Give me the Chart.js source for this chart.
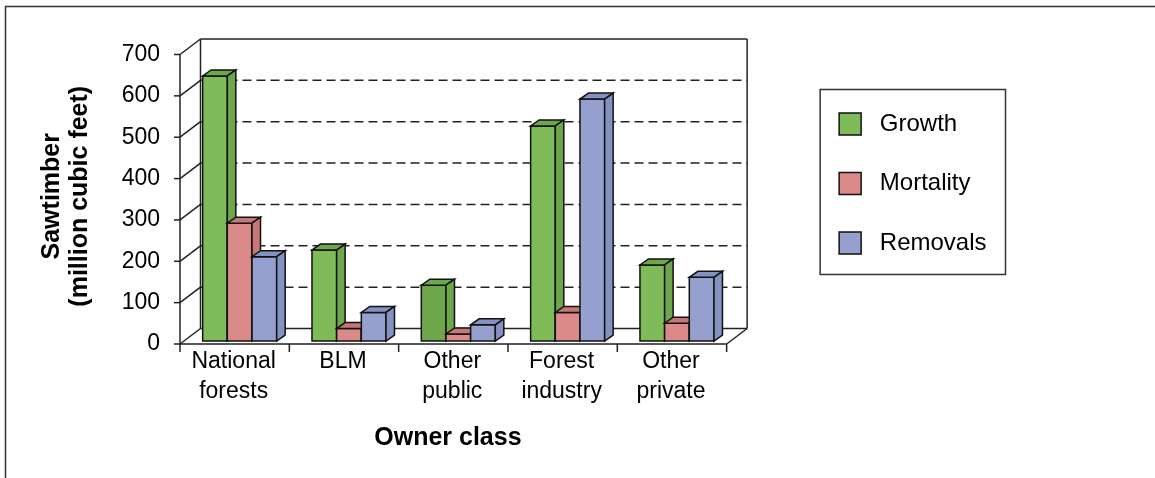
<!DOCTYPE html>
<html>
<head>
<meta charset="utf-8">
<script src="https://cdn.jsdelivr.net/npm/chart.js@4"></script>
<style>
  body { margin: 0; background: #fff; }
  #wrap { width: 1155px; height: 478px; }
</style>
</head>
<body>
<div id="wrap"><canvas id="myChart1" width="1155" height="478"></canvas></div>
<script>
// owner classes and the three series (million cubic feet)
var categories = [['National', 'forests'], 'BLM', ['Other', 'public'], ['Forest', 'industry'], ['Other', 'private']];
var growth = [641, 220, 135, 520, 184];
var mortality = [285, 30, 17, 69, 43];
var removals = [204, 69, 39, 585, 154];
var yTicks = [0, 100, 200, 300, 400, 500, 600, 700];

Chart.defaults.font.family = "'Liberation Sans', Arial, sans-serif";
Chart.defaults.color = '#000';

// 3d look: front plane / back wall offsets from the bar plane, and bar depth
var FRONT = { dx: -5, dy: 3 };
var BACK = { dx: 15.5, dy: -12.5 };
var DEPTH = { dx: 8.5, dy: -6 };

var fakeDepth = {
    id: 'fakeDepth',
    beforeDatasetsDraw: function (chart) {
        var c = chart.ctx, ca = chart.chartArea, y = chart.scales.y, x = chart.scales.x;
        var l = ca.left, r = ca.right;
        var y0 = y.getPixelForValue(yTicks[0]);
        var yTop = y.getPixelForValue(yTicks[yTicks.length - 1]);
        c.save();
        c.strokeStyle = '#222';
        c.lineWidth = 1.5;
        function line(x1, y1, x2, y2) {
            c.beginPath(); c.moveTo(x1, y1); c.lineTo(x2, y2); c.stroke();
        }
        yTicks.forEach(function (v, i) {
            var py = y.getPixelForValue(v);
            // side wall diagonals + front tick marks
            line(l + FRONT.dx, py + FRONT.dy, l + BACK.dx, py + BACK.dy);
            line(l + FRONT.dx - 6, py + FRONT.dy, l + FRONT.dx, py + FRONT.dy);
            if (i > 0 && i < yTicks.length - 1) {
                c.setLineDash([9, 5]);
                line(l + BACK.dx, py + BACK.dy, r + BACK.dx, py + BACK.dy);
                c.setLineDash([]);
            } else {
                line(l + BACK.dx, py + BACK.dy, r + BACK.dx, py + BACK.dy);
            }
        });
        // walls, front axis, floor
        line(l + FRONT.dx, y0 + FRONT.dy, l + FRONT.dx, yTop + FRONT.dy);
        line(l + BACK.dx, y0 + BACK.dy, l + BACK.dx, yTop + BACK.dy);
        line(r + BACK.dx, y0 + BACK.dy, r + BACK.dx, yTop + BACK.dy);
        line(l + FRONT.dx, y0 + FRONT.dy, r + FRONT.dx, y0 + FRONT.dy);
        line(r + FRONT.dx, y0 + FRONT.dy, r + BACK.dx, y0 + BACK.dy);
        for (var i = 0; i <= categories.length; i++) {
            var xb = x.getPixelForValue(i - 0.5) + FRONT.dx;
            line(xb, y0 + FRONT.dy, xb, y0 + FRONT.dy + 8);
        }
        c.restore();
    },
    beforeDatasetDraw: function () {
        return false;
    },
    afterDatasetsDraw: function (chart) {
        var c = chart.ctx;
        c.save();
        c.strokeStyle = '#111';
        c.lineWidth = 1.5;
        c.lineJoin = 'miter';
        function poly(pts, fill) {
            c.beginPath();
            c.moveTo(pts[0][0], pts[0][1]);
            for (var k = 1; k < pts.length; k++) c.lineTo(pts[k][0], pts[k][1]);
            c.closePath();
            c.fillStyle = fill;
            c.fill();
            c.stroke();
        }
        for (var i = 0; i < categories.length; i++) {
            chart.data.datasets.forEach(function (ds, d) {
                var el = chart.getDatasetMeta(d).data[i];
                var xl = el.x - el.width / 2, xr = el.x + el.width / 2;
                var top = el.y, base = el.base;
                poly([[xl, top], [xr, top], [xr, base], [xl, base]], el.options.backgroundColor);
                poly([[xl, top], [xr, top], [xr + DEPTH.dx, top + DEPTH.dy], [xl + DEPTH.dx, top + DEPTH.dy]], ds.sideColor);
                poly([[xr, top], [xr + DEPTH.dx, top + DEPTH.dy], [xr + DEPTH.dx, base + DEPTH.dy], [xr, base]], ds.sideColor);
            });
        }
        c.restore();
    },
    afterDraw: function (chart) {
        var c = chart.ctx;
        var hb = chart.legend.legendHitBoxes;
        var right = 0;
        hb.forEach(function (h) { right = Math.max(right, h.left + h.width); });
        c.save();
        c.strokeStyle = '#333';
        c.lineWidth = 1.5;
        c.strokeRect(hb[0].left - 19, hb[0].top - 22.5, right + 19 - (hb[0].left - 19), hb[hb.length - 1].top + hb[hb.length - 1].height + 19.5 - (hb[0].top - 22.5));
        // outer frame
        c.beginPath();
        c.moveTo(5.5, chart.height);
        c.lineTo(5.5, 6.5);
        c.lineTo(chart.width, 6.5);
        c.stroke();
        c.restore();
    }
};

var ctx = document.getElementById('myChart1').getContext('2d');

var myChart = new Chart(ctx, {
    type: 'bar',
    data: {
        labels: categories,
        datasets: [{
            label: 'Growth',
            data: growth,
            backgroundColor: function (context) {
                return context.dataIndex === 2 ? '#6EA64C' : '#7FBB59';
            },
            sideColor: '#6EA64C',
            borderColor: '#111',
            borderWidth: 1.5
        }, {
            label: 'Mortality',
            data: mortality,
            backgroundColor: '#DB8A8A',
            sideColor: '#C67875',
            borderColor: '#111',
            borderWidth: 1.5
        }, {
            label: 'Removals',
            data: removals,
            backgroundColor: '#95A0CE',
            sideColor: '#8591C0',
            borderColor: '#111',
            borderWidth: 1.5
        }]
    },
    options: {
        responsive: false,
        animation: false,
        layout: {
            padding: { left: 0, top: 51.5, right: 158.5, bottom: 0 }
        },
        datasets: {
            bar: { barPercentage: 1, categoryPercentage: 0.677 }
        },
        scales: {
            x: {
                grid: { display: false, drawTicks: false },
                border: { display: false },
                ticks: {
                    font: { size: 23, lineHeight: 1.3 },
                    padding: 6,
                    labelOffset: -6,
                    maxRotation: 0,
                    autoSkip: false
                },
                title: {
                    display: true,
                    text: 'Owner class   ',
                    font: { size: 25, weight: 'bold' },
                    padding: { top: 0, bottom: 25 }
                },
                afterFit: function (scale) { scale.height = 137; }
            },
            y: {
                min: 0,
                max: 700,
                grid: { display: false, drawTicks: false },
                border: { display: false },
                ticks: {
                    stepSize: 100,
                    font: { size: 23 },
                    padding: 25,
                    labelOffset: 3
                },
                title: {
                    display: true,
                    text: ['Sawtimber', '(million cubic feet)'],
                    font: { size: 25, weight: 'bold', lineHeight: 1.13 },
                    padding: { top: 38, bottom: 0 }
                },
                afterFit: function (scale) { scale.width = 185; }
            },
            // invisible gap between the plot and the legend
            spacer: {
                type: 'linear',
                position: 'right',
                display: false,
                afterFit: function (scale) { scale.width = 72; }
            }
        },
        plugins: {
            tooltip: { enabled: false },
            legend: {
                position: 'right',
                align: 'start',
                fullSize: false,
                title: { display: true, text: '', font: { size: 20, lineHeight: 1.2 }, padding: 0.5 },
                labels: {
                    boxWidth: 22,
                    boxHeight: 22,
                    padding: 35.5,
                    font: { size: 24 },
                    generateLabels: function (chart) {
                        var items = Chart.defaults.plugins.legend.labels.generateLabels(chart);
                        items.forEach(function (it) { it.text = ' ' + it.text; });
                        return items;
                    }
                }
            }
        }
    },
    plugins: [fakeDepth]
});
</script>
</body>
</html>
